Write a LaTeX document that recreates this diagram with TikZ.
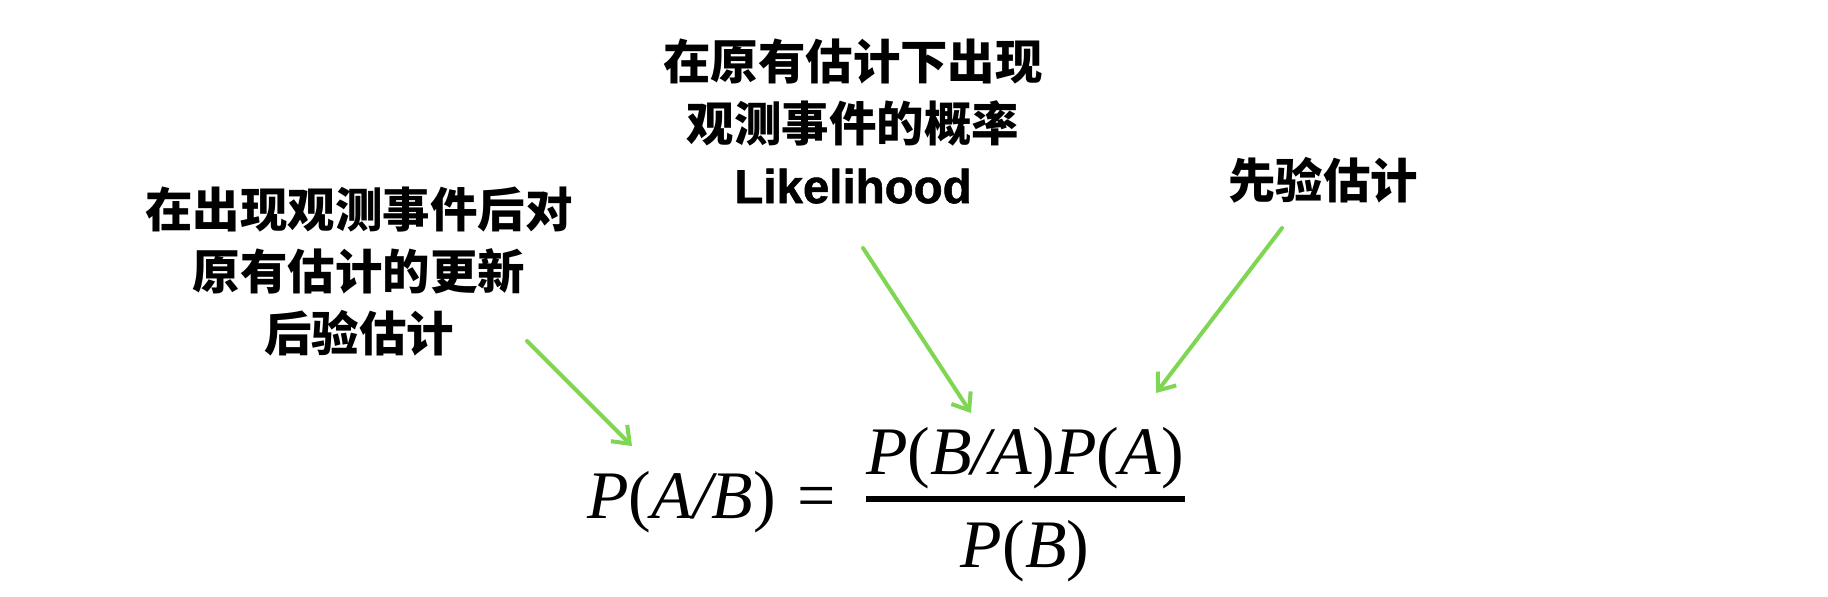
\documentclass[tikz,border=0pt]{standalone}
\usepackage{fontspec}
\setmainfont{Liberation Sans}
\newfontfamily\cjk{Noto Sans CJK SC}
\newfontfamily\latinbold{Liberation Sans Bold}[FakeBold=1.2]
\newfontfamily\termfont{Liberation Serif}
\usetikzlibrary{arrows.meta,positioning}
\definecolor{pointer}{RGB}{126,214,82}

\begin{document}
\begin{tikzpicture}[
    x=0.02cm, y=-0.02cm,
    every node/.style={inner sep=0pt},
    note/.style={align=center, font=\fontsize{27pt}{35.3pt}\selectfont\cjk\bfseries},
    formulatext/.style={font=\fontsize{38.7pt}{42pt}\selectfont\termfont},
    flow/.style={-{Straight Barb[length=0.3cm, width=0.46cm]}, line width=0.08cm, line cap=round, draw=pointer},
    fracbar/.style={line width=0.12cm}
]
\useasboundingbox (0,0) rectangle (1828,596);
\node[note] (posterior) at (359,272) {在出现观测事件后对\\原有估计的更新\\后验估计};
\node[note] (likelihood) at (853,121) {在原有估计下出现\\观测事件的概率\\{\latinbold Likelihood}};
\node[note] (prior) at (1323,180) {先验估计};
\node[formulatext, anchor=base west] (lhs) at (587,518) {\textit{P}(\textit{A/B})};
\node[formulatext, base right=0.42cm of lhs] (eq) {=};
\node[formulatext, anchor=base] (num) at (1025,474) {\textit{P}(\textit{B/A})\textit{P}(\textit{A})};
\node[formulatext, anchor=base] (den) at (1025,567) {\textit{P}(\textit{B})};
\draw[fracbar] (866,499) -- (1185,499);
\coordinate (posteriorTail) at (527,341);
\coordinate (posteriorTip) at (632,446);
\coordinate (likelihoodTail) at (863,248);
\coordinate (likelihoodTip) at (971,413);
\coordinate (priorTail) at (1282,228);
\coordinate (priorTip) at (1156,393);
\draw[flow] (posteriorTail) -- (posteriorTip);
\draw[flow] (likelihoodTail) -- (likelihoodTip);
\draw[flow] (priorTail) -- (priorTip);
\end{tikzpicture}
\end{document}
